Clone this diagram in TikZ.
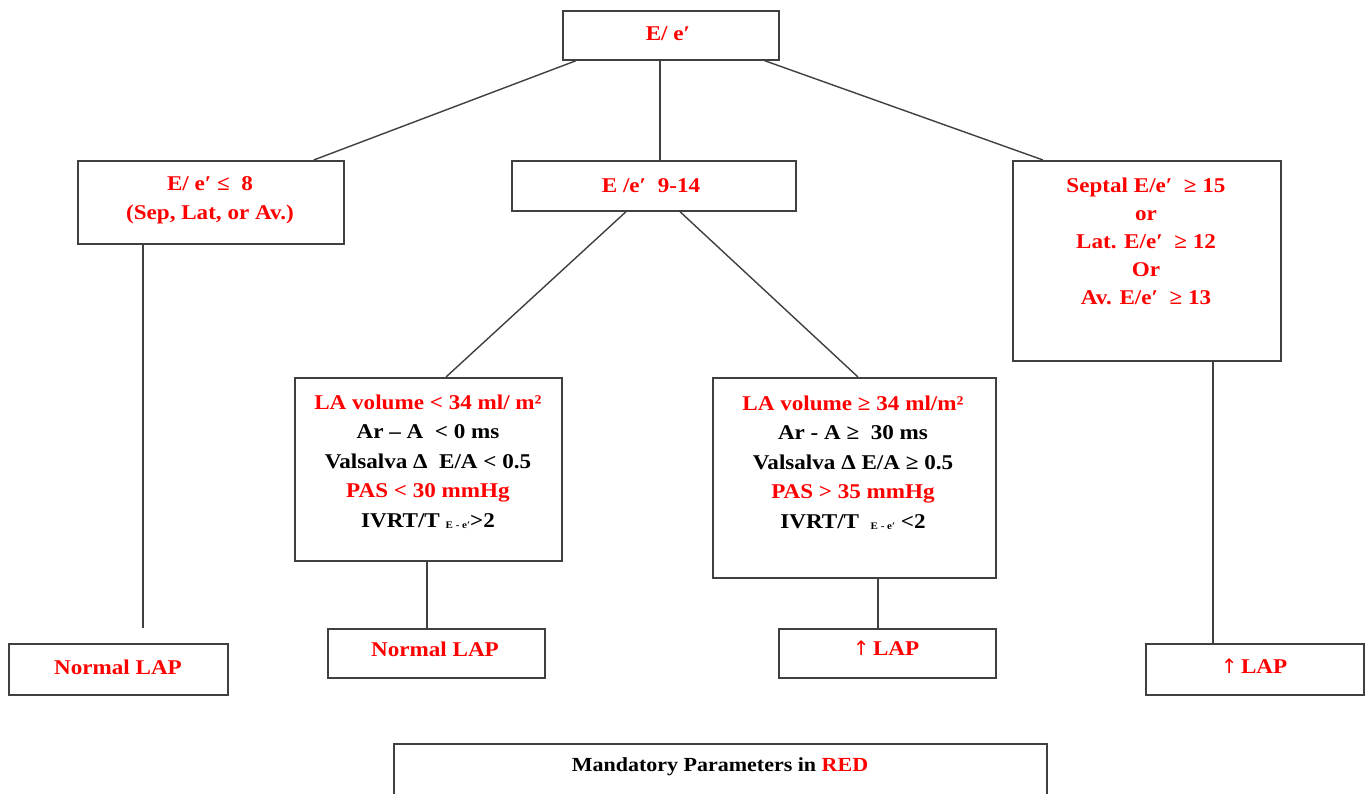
\documentclass[tikz,border=0pt]{standalone}
\usepackage{fontspec}
\setmainfont[FakeStretch=1.1]{Liberation Serif}
\newfontfamily\arrfont{DejaVu Sans}
\definecolor{redtxt}{HTML}{FF0000}
\definecolor{edgegray}{HTML}{404040}
\newcommand{\sbE}[1]{\raisebox{-1.5pt}{\fontsize{10}{10}\selectfont #1}}
\newcommand{\uparr}{{\arrfont\fontsize{20}{20}\mdseries\selectfont ↑}}
\begin{document}
\begin{tikzpicture}[x=1pt,y=-1pt,
  box/.style={draw=edgegray,line width=1.7pt,rectangle,inner sep=0pt,anchor=north west},
  conn/.style={draw=edgegray,line width=1.4pt},
  txt/.style={font=\bfseries\fontsize{21}{29.5}\selectfont,align=center,inner sep=0pt,text=black},
  rtxt/.style={txt,text=redtxt}]
\useasboundingbox (0,0) rectangle (1368,793);
\clip (0,0) rectangle (1368,793);
\fill[white] (0,0) rectangle (1368,793);
% boxes
\node[box,minimum width=216pt,minimum height=49pt] (top) at (562,10) {};
\node[box,minimum width=266pt,minimum height=83pt] (l1) at (77,160) {};
\node[box,minimum width=284pt,minimum height=50pt] (m1) at (511,160) {};
\node[box,minimum width=268pt,minimum height=200pt] (r1) at (1012,160) {};
\node[box,minimum width=267pt,minimum height=183pt] (la1) at (294,377) {};
\node[box,minimum width=283pt,minimum height=200pt] (la2) at (712,377) {};
\node[box,minimum width=219pt,minimum height=51pt] (n1) at (8,643) {};
\node[box,minimum width=217pt,minimum height=49pt] (n2) at (327,628) {};
\node[box,minimum width=217pt,minimum height=49pt] (u1) at (778,628) {};
\node[box,minimum width=218pt,minimum height=51pt] (u2) at (1145,643) {};
\node[box,minimum width=653pt,minimum height=80pt] (mand) at (393,743) {};
% texts
\node[rtxt] (ttop) at (668,34) {E/ e′};
\node[rtxt] (tl1) at (210,200) {E/ e′ ≤ \ 8\\(Sep, Lat, or Av.)};
\node[rtxt] (tm1) at (651,186) {E /e′ \ 9-14};
\node[rtxt,font=\bfseries\fontsize{21}{28}\selectfont] (tr1) at (1146,241) {Septal E/e′ \ ≥ 15\\or\\Lat. E/e′ \ ≥ 12\\Or\\Av. E/e′ \ ≥ 13};
\node[txt] (tla1) at (428,462) {\textcolor{redtxt}{LA volume < 34 ml/ m²}\\Ar – A \ < 0 ms\\Valsalva Δ \ E/A < 0.5\\\textcolor{redtxt}{PAS < 30 mmHg}\\IVRT/T \sbE{E - e′}>2};
\node[txt] (tla2) at (853,463) {\textcolor{redtxt}{LA volume ≥ 34 ml/m²}\\Ar - A ≥ \ 30 ms\\Valsalva Δ E/A ≥ 0.5\\\textcolor{redtxt}{PAS > 35 mmHg}\\IVRT/T \ \sbE{E - e′} <2};
\node[rtxt] (tn1) at (118,667) {Normal LAP};
\node[rtxt] (tn2) at (435,649) {Normal LAP};
\node[rtxt] (tu1) at (886,648) {\uparr\,LAP};
\node[rtxt] (tu2) at (1254,666) {\uparr\,LAP};
\node[txt,font=\bfseries\fontsize{20}{24}\selectfont] (tmand) at (720,767) {Mandatory Parameters in \textcolor{redtxt}{RED}};
% connectors
\coordinate (lend) at (143,628);
\draw[conn] ([xshift=14pt]top.south west) -- ([xshift=-31pt]l1.north east);
\draw[conn] ([xshift=98pt]top.south west) -- ([xshift=149pt]m1.north west);
\draw[conn] ([xshift=-15pt]top.south east) -- ([xshift=31pt]r1.north west);
\draw[conn] ([xshift=115pt]m1.south west) -- ([xshift=152pt]la1.north west);
\draw[conn] ([xshift=169pt]m1.south west) -- ([xshift=146pt]la2.north west);
\draw[conn] ([xshift=66pt]l1.south west) -- (lend);
\draw[conn] ([xshift=133pt]la1.south west) -- ([xshift=100pt]n2.north west);
\draw[conn] ([xshift=166pt]la2.south west) -- ([xshift=100pt]u1.north west);
\draw[conn] ([xshift=201pt]r1.south west) -- ([xshift=68pt]u2.north west);
\end{tikzpicture}
\end{document}
